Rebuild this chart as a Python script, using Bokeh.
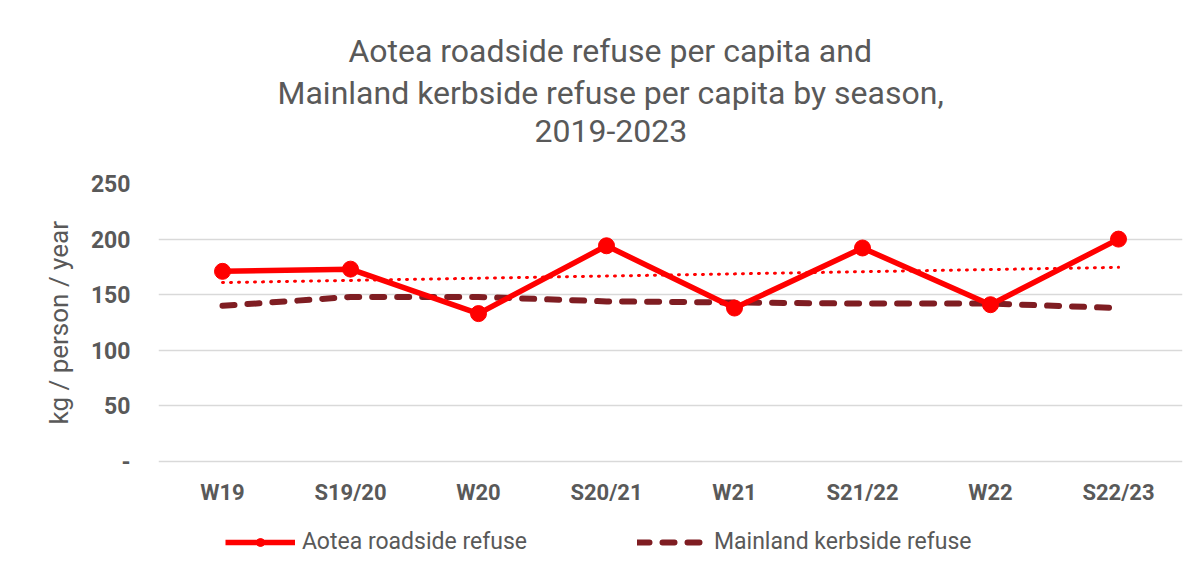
import numpy as np
from bokeh.plotting import figure
from bokeh.models import FactorRange, Range1d, Legend, LegendItem, Title
from bokeh.embed import file_html
from bokeh.resources import INLINE

# ---- data ----
seasons = ["W19", "S19/20", "W20", "S20/21", "W21", "S21/22", "W22", "S22/23"]
aotea = [171, 173, 133, 194, 138, 192, 141, 200]
mainland = [140, 148, 148, 144, 143, 142, 142, 138]
y_ticks = [0, 50, 100, 150, 200, 250]
title_lines = ["Aotea roadside refuse per capita and",
               "Mainland kerbside refuse per capita by season,",
               "2019-2023"]
y_label = "kg / person / year"

# linear trendline of Aotea series (Excel style)
xi = np.arange(len(aotea))
slope, intercept = np.polyfit(xi, aotea, 1)
trend = list(intercept + slope * xi)

GREY = "#595959"
FONT = "Roboto"

# frame extends below zero to host the x labels and the legend
p = figure(frame_width=1024, frame_height=388, x_range=FactorRange(*seasons, range_padding=0),
           y_range=Range1d(-98.9, 250), output_backend="svg", toolbar_location=None,
           title=None, min_border_left=158, min_border_right=10, min_border_top=183,
           min_border_bottom=0)

# spacer between plot and title block
p.add_layout(Title(text="\u00a0", text_font_size="1px", standoff=35), "above")
# lines added bottom-first (later titles stack farther from the plot)
stand = [8, 4, 0]
offs = [376, 119, 190]
for txt, so, off in zip(reversed(title_lines), stand, offs):
    p.add_layout(Title(text=txt, align="left", text_font=FONT, text_font_size="32px",
                       text_font_style="normal", text_color=GREY, standoff=so,
                       offset=off), "above")

# axes
p.yaxis.ticker = y_ticks
p.yaxis.major_label_overrides = {0: "-"}
p.xaxis.fixed_location = 0
for ax in (p.xaxis[0], p.yaxis[0]):
    ax.major_label_text_font = FONT
    ax.major_label_text_font_style = "bold"
    ax.major_label_text_color = GREY
    ax.axis_line_color = None
    ax.major_tick_line_color = None
    ax.minor_tick_line_color = None
p.yaxis.major_label_text_font_size = "23px"
p.xaxis.major_label_text_font_size = "22px"
p.yaxis.major_label_standoff = 22
p.xaxis.major_label_standoff = 12

# y axis title (vertical), positioned along the 0..250 part of the frame
p.add_layout(Title(text=y_label, align="left", offset=147, text_font=FONT,
                   text_font_size="26px", text_font_style="normal", text_color=GREY,
                   standoff=28), "left")

p.xgrid.grid_line_color = None
p.ygrid.grid_line_color = "#d9d9d9"
p.ygrid.grid_line_width = 1.5
p.outline_line_color = None

# series
tr = p.line(seasons, trend, line_color="#ff0000", line_width=3, line_dash="1 7",
            line_cap="round")
ml = p.line(seasons, mainland, line_color="#7f1d22", line_width=6, line_dash="12 13",
            line_cap="round")
al = p.line(seasons, aotea, line_color="#ff0000", line_width=5.5)
ac = p.scatter(seasons, aotea, size=16, fill_color="#ff0000", line_color="#ff0000")

legend = Legend(items=[LegendItem(label="Aotea roadside refuse", renderers=[al, ac]),
                       LegendItem(label="Mainland kerbside refuse", renderers=[ml])],
                orientation="horizontal", location=(67, 16), border_line_alpha=0,
                background_fill_alpha=0, label_text_font=FONT, label_text_font_size="23px",
                label_text_color=GREY, glyph_width=70, glyph_height=20, spacing=110,
                label_standoff=7, padding=0, margin=0)
p.add_layout(legend, "center")

open("out.html", "w").write(file_html(p, INLINE))
